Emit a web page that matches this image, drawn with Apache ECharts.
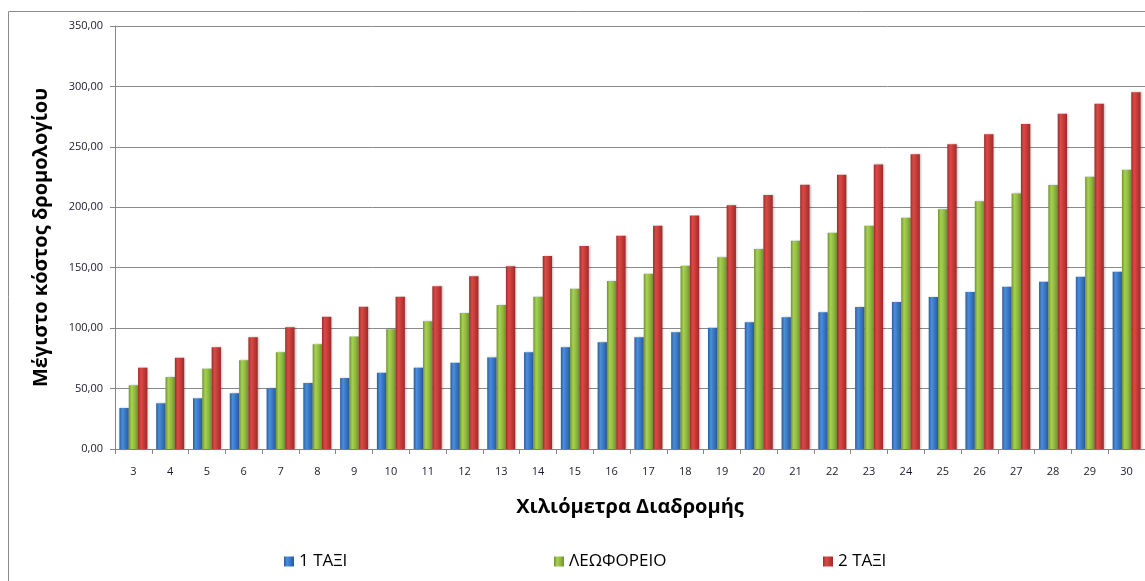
<!DOCTYPE html>
<html>
<head>
<meta charset="utf-8">
<script src="https://cdn.jsdelivr.net/npm/echarts@6/dist/echarts.min.js"></script>
<style>
  html, body { margin: 0; padding: 0; background: #fff; }
  #chart { width: 1145px; height: 581px; }
</style>
</head>
<body>
<div id="chart"></div>
<script>
// Distance travelled (km)
const categories = ['3','4','5','6','7','8','9','10','11','12','13','14','15','16','17','18','19','20','21','22','23','24','25','26','27','28','29','30'];

// Maximum trip cost per mode of transport
const taxi1 = [33.9, 37.8, 41.9, 46.1, 50.2, 54.6, 58.7, 63.1, 67.3, 71.4, 75.8, 80.0, 84.1, 88.3, 92.4, 96.5, 100.4, 104.8, 109.0, 113.1, 117.5, 121.7, 125.8, 129.9, 134.3, 138.4, 142.6, 146.7];
const bus   = [52.7, 59.6, 66.5, 73.4, 80.0, 86.6, 93.0, 99.0, 105.6, 112.5, 119.1, 126.0, 132.6, 139.0, 145.0, 151.7, 158.6, 165.5, 172.3, 179.0, 184.8, 191.4, 198.3, 204.9, 211.5, 218.4, 225.3, 231.1];
const taxi2 = [67.3, 75.6, 84.1, 92.4, 100.7, 109.5, 117.7, 126.0, 134.6, 142.9, 151.2, 159.7, 168.0, 176.5, 184.8, 193.1, 201.6, 210.2, 218.7, 227.0, 235.5, 243.8, 252.1, 260.4, 268.9, 277.4, 285.7, 295.1];

const seriesNames = ['1 ΤΑΞΙ', 'ΛΕΩΦΟΡΕΙΟ', '2 ΤΑΞΙ'];
const yTicks = [0, 50, 100, 150, 200, 250, 300, 350];

const FONT = '"Open Sans", "Noto Sans", "DejaVu Sans", sans-serif';

// Rounded-column shading: dark edges, lighter left-of-centre highlight
function shade(dark, mid, light) {
  return new echarts.graphic.LinearGradient(0, 0, 1, 0, [
    { offset: 0, color: dark },
    { offset: 0.3, color: light },
    { offset: 0.6, color: mid },
    { offset: 1, color: dark }
  ]);
}
const fills = [
  shade('#2a5a98', '#3a78c6', '#4a8fdc'),
  shade('#6f9230', '#93bd43', '#a6d150'),
  shade('#9a2c2a', '#c63c39', '#da4a46')
];
const legendFills = [
  shade('#2a5a98', '#3a78c6', '#4a8fdc'),
  shade('#6f9230', '#93bd43', '#a6d150'),
  shade('#9a2c2a', '#c63c39', '#da4a46')
];

const series = [taxi1, bus, taxi2].map((vals, i) => ({
  name: seriesNames[i],
  type: 'bar',
  data: vals,
  barGap: '0%',
  barCategoryGap: '24%',
  itemStyle: {
    color: fills[i],
    shadowColor: 'rgba(0,0,0,0.25)',
    shadowBlur: 2,
    shadowOffsetX: 1
  },
  emphasis: { disabled: true }
}));

const legendLefts = [279, 549, 818];
const legends = seriesNames.map((n, i) => ({
  data: [{ name: n, itemStyle: { color: legendFills[i] } }],
  left: legendLefts[i],
  top: 548,
  icon: 'rect',
  itemWidth: 10,
  itemHeight: 10,
  itemGap: 6,
  textStyle: { fontFamily: FONT, fontSize: 17, color: '#000' },
  selectedMode: false
}));

const chart = echarts.init(document.getElementById('chart'), null, { renderer: 'canvas' });
chart.setOption({
  animation: false,
  backgroundColor: '#fff',
  graphic: [{
    type: 'rect',
    shape: { x: 8.5, y: 11.5, width: 1300, height: 700 },
    style: { fill: 'none', stroke: '#8c8c8c', lineWidth: 1 },
    silent: true,
    z: -1
  }],
  legend: legends,
  grid: { left: 115, top: 26, width: 1034.6, height: 423, containLabel: false },
  xAxis: {
    type: 'category',
    data: categories,
    name: 'Χιλιόμετρα Διαδρομής',
    nameLocation: 'middle',
    nameGap: 48,
    nameTextStyle: { fontFamily: FONT, fontSize: 20, fontWeight: 'bold', color: '#000' },
    axisLine: { lineStyle: { color: '#868686', width: 1 } },
    axisTick: { show: true, alignWithLabel: false, length: 5, lineStyle: { color: '#868686' } },
    axisLabel: { fontFamily: FONT, fontSize: 11, color: '#1a1a2e', margin: 17, interval: 0 },
    splitLine: { show: false }
  },
  yAxis: {
    type: 'value',
    min: yTicks[0],
    max: yTicks[yTicks.length - 1],
    interval: 50,
    name: 'Μέγιστο κόστος δρομολογίου',
    nameLocation: 'middle',
    nameGap: 64,
    nameRotate: 90,
    nameTextStyle: { fontFamily: FONT, fontSize: 20, fontWeight: 'bold', color: '#000' },
    axisLine: { show: true, lineStyle: { color: '#868686', width: 1 } },
    axisTick: { show: true, length: 5, lineStyle: { color: '#868686' } },
    axisLabel: {
      fontFamily: FONT, fontSize: 11, color: '#1a1a2e', margin: 12,
      formatter: v => v.toFixed(2).replace('.', ',')
    },
    splitLine: { show: true, lineStyle: { color: '#8a8a8a', width: 1 } }
  },
  series: series
});
</script>
</body>
</html>
